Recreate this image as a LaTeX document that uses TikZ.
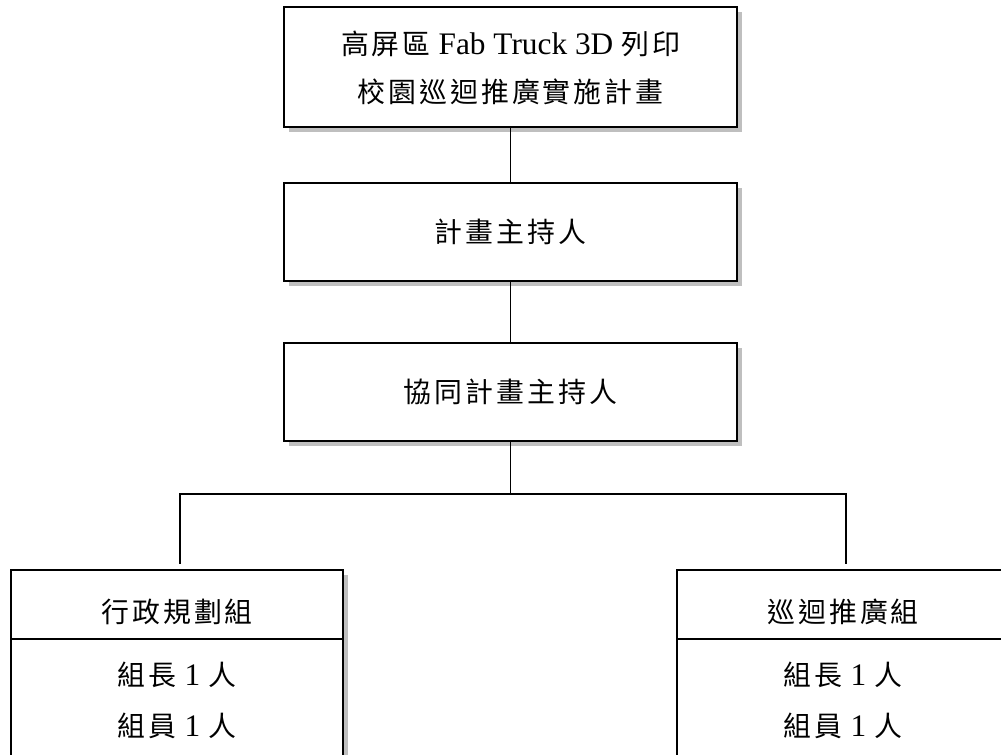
\documentclass[tikz,border=0pt]{standalone}
\usepackage{fontspec}
\setmainfont{Liberation Serif}
\newfontfamily\cjk[Scale=0.89,LetterSpace=11]{Noto Sans CJK TC}
\newcommand\zh[1]{{\cjk #1}}
\usetikzlibrary{shadows}

\tikzset{
  orgbox/.style={draw, line width=1.4pt, fill=white, inner sep=0pt, align=center,
    general shadow={fill=black!25, shadow xshift=3.75pt, shadow yshift=-3.75pt},
    font=\fontsize{23.5}{36}\selectfont},
  grouphd/.style={orgbox, minimum width=249pt, minimum height=51.75pt, text height=26.9pt, text depth=0pt},
  groupbody/.style={orgbox, minimum width=249pt, minimum height=92.25pt, font=\fontsize{23.5}{38.25}\selectfont},
  link/.style={line width=1.4pt},
}

\begin{document}
\begin{tikzpicture}[x=0.75pt,y=0.75pt,yscale=-1]
            %set diagram left start at 0, and has height of 755
            \useasboundingbox (0,0) rectangle (1001,755);
            \clip (0,0) rectangle (1001,755);

            % Box Nodes
            \node [orgbox, minimum width=339.75pt, minimum height=90pt, text depth=0pt] (plan) at (510.5,67) {\zh{高屏區} Fab Truck 3D \zh{列印}\\\zh{校園巡迴推廣實施計畫}};
            \node [orgbox, minimum width=339.75pt, minimum height=73.5pt] (lead) at (510.5,232) {\zh{計畫主持人}};
            \node [orgbox, minimum width=339.75pt, minimum height=73.5pt] (colead) at (510.5,392) {\zh{協同計畫主持人}};

            % Group Nodes
            \node [grouphd] (adminhd) at (177,604.5) {\zh{行政規劃組}};
            \node [groupbody] (adminbody) at (177,700.5) {\zh{組長} 1 \zh{人}\\\zh{組員} 1 \zh{人}};
            \node [grouphd] (tourhd) at (843,604.5) {\zh{巡迴推廣組}};
            \node [groupbody] (tourbody) at (843,700.5) {\zh{組長} 1 \zh{人}\\\zh{組員} 1 \zh{人}};

            %Straight Lines
            \coordinate (fork) at (510.5,494);
            \draw [link] (plan) -- (lead);
            \draw [link] (lead) -- (colead);
            \draw [link] (colead) -- (fork);
            \draw [link, shorten >=3.75pt] (fork) -| ([xshift=2.25pt]adminhd.north);
            \draw [link, shorten >=3.75pt] (fork) -| ([xshift=2.25pt]tourhd.north);

\end{tikzpicture}
\end{document}
